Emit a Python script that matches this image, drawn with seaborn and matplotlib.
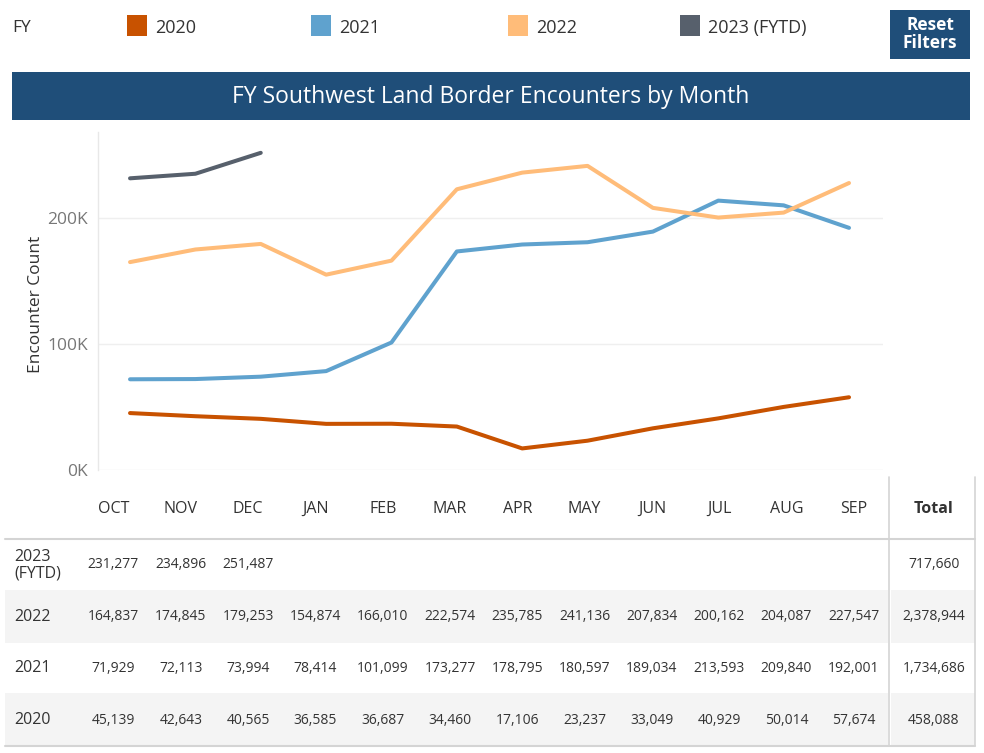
import numpy as np
import pandas as pd
import matplotlib
matplotlib.use("Agg")
import matplotlib.pyplot as plt
import seaborn as sns
from matplotlib.patches import Rectangle

# ---------------- data ----------------
months = ["OCT", "NOV", "DEC", "JAN", "FEB", "MAR", "APR", "MAY", "JUN", "JUL", "AUG", "SEP"]
fy2020 = [45139, 42643, 40565, 36585, 36687, 34460, 17106, 23237, 33049, 40929, 50014, 57674]
fy2021 = [71929, 72113, 73994, 78414, 101099, 173277, 178795, 180597, 189034, 213593, 209840, 192001]
fy2022 = [164837, 174845, 179253, 154874, 166010, 222574, 235785, 241136, 207834, 200162, 204087, 227547]
fy2023 = [231277, 234896, 251487]
series_names = ["2020", "2021", "2022", "2023 (FYTD)"]
row_labels = ["2023\n(FYTD)", "2022", "2021", "2020"]
colors = ["#c85200", "#5fa2ce", "#ffbc79", "#57606c"]
y_ticks = [0, 100000, 200000]
y_tick_labels = ["0K", "100K", "200K"]

series_vals = [fy2020, fy2021, fy2022, fy2023]
rows = []
for name, vals in zip(series_names, series_vals):
    for i, v in enumerate(vals):
        rows.append({"FY": name, "month_idx": i, "Month": months[i], "Count": v})
df = pd.DataFrame(rows)

# ---------------- figure ----------------
W, H = 984, 753
sns.set_theme(style="white")
plt.rcParams["font.family"] = ["Open Sans", "DejaVu Sans"]
fig = plt.figure(figsize=(W / 100, H / 100), dpi=100)

def fx(px):
    return px / W

def fy(py):
    return 1 - py / H

# overlay axes in pixel coords for header / table
ov = fig.add_axes([0, 0, 1, 1], zorder=0)
ov.set_xlim(0, W)
ov.set_ylim(H, 0)
ov.axis("off")

# legend row
ov.text(12, 28, "FY", fontsize=12.5, color="#333333", va="center", ha="left")
leg_x = [127, 311, 508, 680]
for x0, name, c in zip(leg_x, series_names, colors):
    ov.add_patch(Rectangle((x0, 15), 20, 21, facecolor=c, edgecolor="none"))
    ov.text(x0 + 28, 28, name, fontsize=13, color="#333333", va="center", ha="left")

# reset button
ov.add_patch(Rectangle((890, 10), 80, 49, facecolor="#1f4e79", edgecolor="none"))
ov.text(930, 34, "Reset\nFilters", fontsize=12.5, color="white", fontweight="bold",
        ha="center", va="center", linespacing=0.95)

# title bar
ov.add_patch(Rectangle((12, 72), 958, 48, facecolor="#1f4e79", edgecolor="none"))
ov.text(491, 97, "FY Southwest Land Border Encounters by Month", fontsize=16.5,
        color="white", ha="center", va="center")

# ---------------- line chart ----------------
ax = fig.add_axes([fx(98), fy(470), fx(883) - fx(98), fy(132) - fy(470)], zorder=2)
ax.patch.set_alpha(0)
sns.lineplot(data=df, x="month_idx", y="Count", hue="FY", palette=colors,
             hue_order=series_names, linewidth=2.9, ax=ax, legend=False,
             solid_capstyle="round")
ax.set_xlim(-0.49, 11.52)
ax.set_ylim(0, 268000)
ax.set_yticks(y_ticks)
ax.set_yticklabels(y_tick_labels, fontsize=12.5, color="#777777")
ax.set_xticks([])
ax.set_xlabel("")
ax.set_ylabel("Encounter Count", fontsize=12.5, color="#333333")
ax.yaxis.set_label_coords(-0.069, 0.49)
ax.tick_params(axis="y", length=0, pad=7)
for yt in y_ticks:
    ax.axhline(yt, color="#efefef", linewidth=1, zorder=0)
for s in ["top", "right", "bottom"]:
    ax.spines[s].set_visible(False)
ax.spines["left"].set_color("#e8e8e8")
ax.spines["left"].set_linewidth(1)

# ---------------- table ----------------
col_x = [113.5 + 67.3 * i for i in range(12)]
total_x = 934
header_y = 509
row_y = [565, 617, 668, 720]
row_bands = [(540, 590), (590, 643), (643, 693), (693, 745)]
table_vals = [fy2023, fy2022, fy2021, fy2020]

for i, (y0, y1) in enumerate(row_bands):
    if i % 2 == 1:
        ov.add_patch(Rectangle((5, y0), 883, y1 - y0, facecolor="#f4f4f4", edgecolor="none"))
        ov.add_patch(Rectangle((891, y0), 84, y1 - y0, facecolor="#f4f4f4", edgecolor="none"))

for m, x in zip(months, col_x):
    ov.text(x, header_y, m, fontsize=11.5, color="#333333", ha="center", va="center")
ov.text(total_x, header_y, "Total", fontsize=11.5, color="#333333", ha="center",
        va="center", fontweight="bold")

for lab, vals, y in zip(row_labels, table_vals, row_y):
    ov.text(14, y, lab, fontsize=11.5, color="#333333",
            ha="left", va="center", linespacing=1.05)
    for v, x in zip(vals, col_x):
        ov.text(x, y, f"{v:,}", fontsize=10, color="#333333", ha="center", va="center")
    ov.text(total_x, y, f"{sum(vals):,}", fontsize=10, color="#333333",
            ha="center", va="center")

ov.plot([5, 975], [539, 539], color="#d4d4d4", linewidth=1.5)
ov.plot([5, 975], [746, 746], color="#d4d4d4", linewidth=1.5)
ov.plot([889, 889], [477, 746], color="#d4d4d4", linewidth=1.2)
ov.plot([975, 975], [477, 746], color="#d4d4d4", linewidth=1.2)

fig.savefig("out.png", dpi=100)
